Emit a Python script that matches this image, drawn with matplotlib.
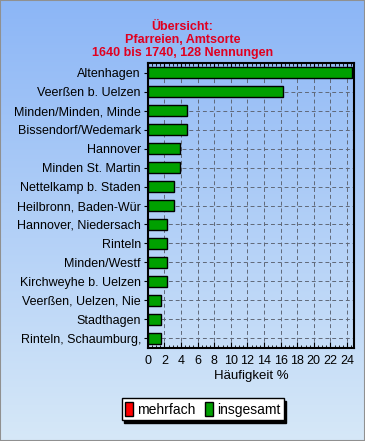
import matplotlib.pyplot as plt
import numpy as np
from matplotlib.patches import Patch

plt.rcParams['font.family'] = ['Liberation Sans', 'DejaVu Sans']

# data
places = ['Altenhagen', 'Veerßen b. Uelzen', 'Minden/Minden, Minde', 'Bissendorf/Wedemark',
          'Hannover', 'Minden St. Martin', 'Nettelkamp b. Staden', 'Heilbronn, Baden-Wür',
          'Hannover, Niedersach', 'Rinteln', 'Minden/Westf', 'Kirchweyhe b. Uelzen',
          'Veerßen, Uelzen, Nie', 'Stadthagen', 'Rinteln, Schaumburg,']
insgesamt = [24.6, 16.3, 4.7, 4.7, 3.9, 3.9, 3.1, 3.1, 2.3, 2.3, 2.3, 2.3, 1.6, 1.6, 1.6]
xticks = list(range(0, 25, 2))

fig = plt.figure(figsize=(3.65, 4.41), dpi=100)

# background gradient
bg = fig.add_axes([0, 0, 1, 1], zorder=-10)
grad = np.linspace(0, 1, 256).reshape(-1, 1)
top = np.array([0x8c, 0xb6, 0xf6]) / 255
bot = np.array([0xd6, 0xe8, 0xf8]) / 255
img = top + (bot - top) * grad[:, :, None]
bg.imshow(img, aspect='auto', extent=[0, 1, 0, 1])
bg.set_axis_off()
fig.patches.append(plt.Rectangle((0, 0), 1, 1, transform=fig.transFigure,
                                 fill=False, edgecolor='#909090', lw=1.5))

ax = fig.add_axes([0.405, 0.211, 0.565, 0.646])
ax.patch.set_alpha(0)
y = np.arange(len(places))
ax.barh(y, insgesamt, height=0.58, color='#00a000', edgecolor='black', lw=1, zorder=3)
ax.set_ylim(len(places) - 0.5, -0.5)
ax.set_xlim(0, 24.85)
ax.set_yticks(y)
ax.set_yticklabels(places, fontsize=9)
ax.set_xticks(xticks)
ax.set_xticklabels([str(t) for t in xticks], fontsize=9)
ax.set_xticks(np.arange(0, 24.9, 0.5), minor=True)
ax.tick_params(axis='x', direction='in', length=4, top=True, pad=5)
ax.tick_params(axis='x', which='minor', direction='in', length=2, top=True)
ax.tick_params(axis='y', direction='out', length=3, pad=2)
ax.grid(True, color='#606878', ls=(0, (4, 3)), lw=0.7, zorder=0)
for s in ax.spines.values():
    s.set_linewidth(1.5)
ax.set_xlabel('Häufigkeit %', fontsize=9.5, labelpad=2)

fig.text(0.5, 0.866, 'Übersicht:\nPfarreien, Amtsorte\n1640 bis 1740, 128 Nennungen',
         ha='center', va='bottom', color='#e00020', fontsize=9, fontweight='bold',
         linespacing=1.1)

handles = [Patch(facecolor='#ff0000', edgecolor='black'),
           Patch(facecolor='#00a000', edgecolor='black')]
leg = fig.legend(handles, ['mehrfach', 'insgesamt'], loc='center', ncol=2,
                 bbox_to_anchor=(0.555, 0.072), fontsize=10, frameon=True, fancybox=False,
                 shadow={'color': 'black', 'alpha': 1}, handlelength=0.55, handleheight=1.2,
                 handletextpad=0.3, columnspacing=0.7, borderpad=0.25, borderaxespad=0)
leg.get_frame().set_edgecolor('black')
leg.get_frame().set_facecolor('white')
leg.get_frame().set_alpha(1)

plt.savefig('out.png', dpi=100)
